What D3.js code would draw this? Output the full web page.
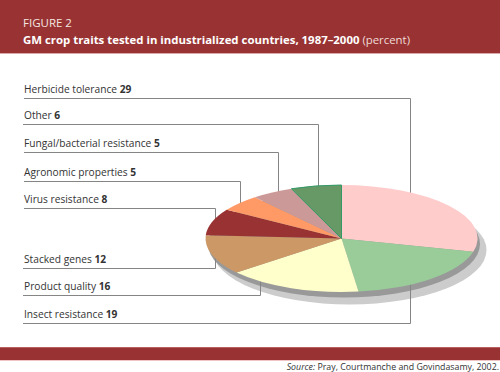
<!DOCTYPE html>
<html>
<head>
<meta charset="utf-8">
<script src="https://cdn.jsdelivr.net/npm/d3@7"></script>
<style>
  html, body { margin: 0; padding: 0; background: #fff; }
  text { font-family: "Open Sans", sans-serif; }
</style>
</head>
<body>
<div id="app"></div>
<script>
'use strict'
const traits = ['Herbicide tolerance', 'Insect resistance', 'Product quality', 'Stacked genes',
  'Virus resistance', 'Agronomic properties', 'Fungal/bacterial resistance', 'Other']
const shares = [29, 19, 16, 12, 8, 5, 5, 6]
const sliceColors = ['#ffcccc', '#99cc99', '#ffffcc', '#cc9966', '#993333', '#ff9966', '#cc9999', '#669966']

const width = 500
const height = 372
const red = '#993333'

// label rows, top to bottom, as they stand in the figure
const rows = [
  { trait: 'Herbicide tolerance', y: 98.5, path: [[24, 98.5], [410.5, 98.5], [410.5, 200]] },
  { trait: 'Other', y: 124.5, path: [[23, 124.5], [318.5, 124.5], [318.5, 200]] },
  { trait: 'Fungal/bacterial resistance', y: 152.5, path: [[24, 152.5], [278.5, 152.5], [278.5, 200]] },
  { trait: 'Agronomic properties', y: 181.5, path: [[24, 181.5], [240.5, 181.5], [240.5, 210]] },
  { trait: 'Virus resistance', y: 208.5, path: [[24, 208.5], [215.5, 208.5], [215.5, 268.5]] },
  { trait: 'Stacked genes', y: 268.5, path: [[23, 268.5], [215.5, 268.5]] },
  { trait: 'Product quality', y: 295.5, path: [[23, 295.5], [260.5, 295.5], [260.5, 270]] },
  { trait: 'Insect resistance', y: 323.5, path: [[23, 323.5], [410.5, 323.5], [410.5, 270]] }
]

const svg = d3.select('#app').append('svg')
  .attr('width', width)
  .attr('height', height)
  .style('display', 'block')

/*
 * Header and footer bands, each with a pale bottom edge.
 */
svg.append('rect').attr('width', width).attr('height', 53).attr('fill', red)
svg.append('rect').attr('y', 53).attr('width', width).attr('height', 1).attr('fill', '#d9a8a8')
svg.append('rect').attr('y', 347).attr('width', width).attr('height', 13).attr('fill', red)
svg.append('rect').attr('y', 347).attr('width', width).attr('height', 1).attr('fill', '#b86060')
svg.append('rect').attr('y', 360).attr('width', width).attr('height', 1).attr('fill', '#efc4c4')

svg.append('text')
  .attr('x', 23).attr('y', 27)
  .attr('font-size', 11.5).attr('fill', '#f5e6e0')
  .text('FIGURE 2')

const title = svg.append('text')
  .attr('x', 23).attr('y', 43.5)
  .attr('font-size', 11.4).attr('fill', '#fff')
title.append('tspan').attr('font-weight', 700).text('GM crop traits tested in industrialized countries, 1987–2000 ')
title.append('tspan').attr('fill', '#f0dcd8').text('(percent)')

/*
 * The pie is a flat circle squashed into an ellipse.
 */
const cx = 341.5
const cy = 238.5
const rx = 136
const ry = 53.5

const shadow = svg.append('g')
shadow.append('ellipse')
  .attr('cx', cx + 8).attr('cy', cy + 11.5)
  .attr('rx', rx + 1).attr('ry', ry + 1)
  .attr('fill', '#cccccc')
shadow.append('ellipse')
  .attr('cx', cx + 2.5).attr('cy', cy + 5.5)
  .attr('rx', rx).attr('ry', ry)
  .attr('fill', '#999999')

/*
 * Leaders cross the shadow but go behind the pie.
 */
const line = d3.line()
svg.selectAll('.leader')
  .data(rows)
  .enter()
  .append('path')
  .attr('class', 'leader')
  .attr('d', d => line(d.path))
  .attr('fill', 'none')
  .attr('stroke', '#858585')
  .attr('stroke-width', 1)

const labels = svg.selectAll('.label')
  .data(rows)
  .enter()
  .append('text')
  .attr('class', 'label')
  .attr('x', 24)
  .attr('y', d => d.y - 5.3)
  .attr('font-size', 10.2)
  .attr('fill', '#333')
labels.append('tspan').text(d => d.trait + ' ')
labels.append('tspan')
  .attr('font-weight', 700)
  .text(d => shares[traits.indexOf(d.trait)])

const color = d3.scaleOrdinal().domain(traits).range(sliceColors)
const pie = d3.pie().value((d, i) => shares[i]).sort(null)
const arc = d3.arc().innerRadius(0).outerRadius(1)

svg.append('g')
  .attr('transform', `translate(${cx}, ${cy}) scale(${rx}, ${ry})`)
  .selectAll('path')
  .data(pie(traits))
  .enter()
  .append('path')
  .attr('d', arc)
  .attr('fill', d => color(d.data))
  .attr('stroke', d => d.data === 'Other' ? '#339966' : 'none')
  .attr('stroke-width', 1)
  .attr('vector-effect', 'non-scaling-stroke')

svg.append('text')
  .attr('x', 499).attr('y', 369.5)
  .attr('text-anchor', 'end')
  .attr('font-size', 8.8)
  .attr('fill', '#333')
  .call(t => {
    t.append('tspan').attr('font-style', 'italic').text('Source: ')
    t.append('tspan').text('Pray, Courtmanche and Govindasamy, 2002.')
  })
</script>
</body>
</html>
